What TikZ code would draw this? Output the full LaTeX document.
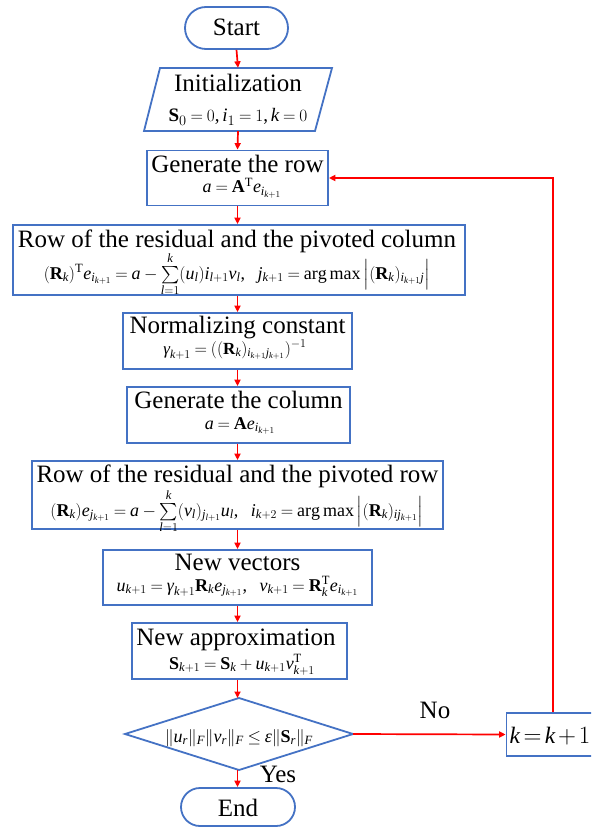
\documentclass[tikz,border=0pt]{standalone}
\usepackage{exscale}
\usepackage{fontspec}
\setmainfont{Liberation Serif}
\DeclareSymbolFont{letters}{TU}{\rmdefault}{m}{it}
\DeclareSymbolFont{operators}{TU}{\rmdefault}{m}{n}
\DeclareMathAlphabet{\mathbf}{TU}{\rmdefault}{bx}{n}
\mathcode`,="602C
\thickmuskip=4mu plus 2mu
\medmuskip=3.5mu plus 1mu
\usetikzlibrary{arrows.meta}
\definecolor{boxblue}{HTML}{4472C4}
\definecolor{arrred}{HTML}{FF0000}
\newcommand{\ttl}{\fontsize{25}{27}\selectfont}
\newcommand{\fml}{\fontsize{18}{20}\selectfont}
\newcommand{\bR}{\mathbf{R}}
\newcommand{\bS}{\mathbf{S}}
\newcommand{\tT}{\mathrm{T}}
\newcommand{\mgam}{\mbox{\itshape γ}}
\newcommand{\meps}{\mbox{\itshape ε}}
\newcommand{\gap}{\mkern10mu}
\begin{document}
\begin{tikzpicture}[x=1pt,y=-1pt,
  box/.style={draw=boxblue, line width=1.8pt, rectangle, inner sep=0pt},
  term/.style={box, rounded corners=#1},
  tt/.style={inner sep=0pt, anchor=base, font=\ttl},
  ff/.style={inner sep=0pt, anchor=base, font=\fml},
  arr/.style={draw=arrred, line width=1.7pt, -{Triangle[length=6.5pt,width=6pt]}}]
\useasboundingbox (0,0) rectangle (591,829);
\clip (0,0) rectangle (591,829);
% start
\node[term=21pt, minimum width=103pt, minimum height=42pt] (start) at (236.5,28) {};
\node[tt] (startt) at (236.5,36) {Start};
% init parallelogram
\draw[draw=boxblue, line width=1.8pt] (160,68) -- (332,68) -- (315,131) -- (144,131) -- cycle;
\node[inner sep=0pt, minimum width=170pt, minimum height=63pt] (init) at (238,99.5) {};
\node[tt] (initt) at (238,92) {Initialization};
\node[ff, font=\fontsize{19}{21}\selectfont] (initf) at (238,122) {$\bS_0=0,i_1=1,k=0$};
% generate row
\node[box, minimum width=181pt, minimum height=55pt] (gen) at (237.5,178) {};
\node[tt] (gent) at (237.5,172) {Generate the row};
\node[ff] (genf) at (242,193) {$a=\mathbf{A}^{\tT}e_{i_{k+1}}$};
% residual column
\node[box, minimum width=452pt, minimum height=70pt] (res1) at (239,260) {};
\node[tt] (res1t) at (237,247) {Row of the residual and the pivoted column};
\node[ff] (res1f) at (237,279) {$(\bR_k)^{\tT}e_{i_{k+1}}=a-\textstyle\sum\limits_{l=1}^{k}(u_l)i_{l+1}v_l,\gap j_{k+1}=\arg\max\Big|(\bR_k)_{i_{k+1}j}\Big|$};
% normalizing
\node[box, minimum width=229pt, minimum height=56pt] (norm) at (237.5,341) {};
\node[tt] (normt) at (237.5,333) {Normalizing constant};
\node[ff, font=\fontsize{17}{19}\selectfont] (normf) at (235,354) {$\mgam_{k+1}=((\bR_k)_{i_{k+1}j_{k+1}})^{-1}$};
% column
\node[box, minimum width=223pt, minimum height=56pt] (col) at (238.5,415) {};
\node[tt] (colt) at (238.5,408) {Generate the column};
\node[ff] (colf) at (240,429) {$a=\mathbf{A}e_{i_{k+1}}$};
% residual row
\node[box, minimum width=411pt, minimum height=68pt] (res2) at (237.5,495) {};
\node[tt] (res2t) at (237.5,482) {Row of the residual and the pivoted row};
\node[ff] (res2f) at (237,516) {$(\bR_k)e_{j_{k+1}}=a-\textstyle\sum\limits_{l=1}^{k}(v_l)_{j_{l+1}}u_l,\gap i_{k+2}=\arg\max\Big|(\bR_k)_{ij_{k+1}}\Big|$};
% new vectors
\node[box, minimum width=269pt, minimum height=55pt] (newv) at (237.5,577.5) {};
\node[tt] (newvt) at (237.5,570) {New vectors};
\node[ff] (newvf) at (237.5,591) {$u_{k+1}=\mgam_{k+1}\bR_k e_{j_{k+1}},\gap v_{k+1}=\bR_k^{\tT}e_{i_{k+1}}$};
% new approximation
\node[box, minimum width=215pt, minimum height=56pt] (newa) at (239.5,651) {};
\node[tt] (newat) at (236,645) {New approximation};
\node[ff] (newaf) at (242,669) {$\bS_{k+1}=\bS_k+u_{k+1}v_{k+1}^{\tT}$};
% decision diamond
\coordinate (dtop) at (239,698);
\coordinate (dright) at (353,734);
\coordinate (dbot) at (239,770);
\coordinate (dleft) at (125,734);
\draw[draw=boxblue, line width=1.8pt] (dtop) -- (dright) -- (dbot) -- (dleft) -- cycle;
\node[ff] (dec) at (239,742) {$\|u_r\|_F\|v_r\|_F\le\meps\|\bS_r\|_F$};
% end
\node[term=19pt, minimum width=114pt, minimum height=38pt] (end) at (238,807) {};
\node[tt] (endt) at (238,816) {End};
% k box
\node[box, minimum width=93pt, minimum height=43pt] (kbox) at (553,734.5) {};
\node[tt, font=\fontsize{23.5}{26}\selectfont] (kboxt) at (550,743) {\thickmuskip=2.5mu\medmuskip=2mu $k=k+1$};
% arrows
\draw[arr] (start.south) -- (init.north);
\draw[arr] (init.south) -- (gen.north);
\draw[arr] (gen.south) -- (gen.south |- res1.north);
\draw[arr] (res1.south -| gen.south) -- (norm.north);
\draw[arr] (norm.south) -- (norm.south |- col.north);
\draw[arr] (col.south -| norm.south) -- (res2.north);
\draw[arr] (res2.south) -- (newv.north);
\draw[arr] (newv.south) -- (newv.south |- newa.north);
\draw[arr] (newa.south -| newv.south) -- (newv.south |- dtop);
\draw[arr] (dbot -| newv.south) -- (newv.south |- end.north);
\draw[arr] (dright) -- (kbox.west);
\draw[arr] (kbox.north) |- (gen.east);
\node[tt] (no) at (435,718) {No};
\node[tt] (yes) at (278,782) {Yes};
\end{tikzpicture}
\end{document}
